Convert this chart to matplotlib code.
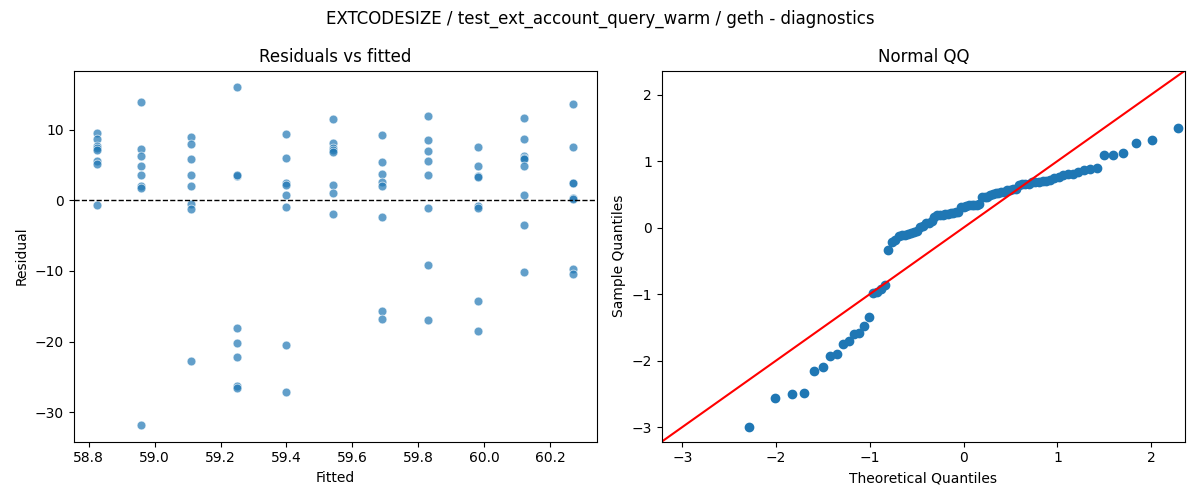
import matplotlib
matplotlib.use("Agg")
import matplotlib.pyplot as plt
import numpy as np

fitted_levels = [58.826, 58.96, 59.11, 59.25, 59.40, 59.54, 59.69, 59.83, 59.98, 60.12, 60.27]
residual_groups = [
    [9.6, 8.7, 7.7, 7.4, 7.1, 5.6, 5.2, -0.7],
    [14.0, 7.3, 6.3, 4.9, 3.6, 2.0, 1.8, -31.8],
    [9.0, 8.0, 5.8, 3.6, 2.1, -0.5, -1.2, -22.8],
    [16.0, 3.5, 3.6, -18.1, -20.2, -22.2, -26.3, -26.6],
    [9.4, 6.0, 2.4, 2.2, 0.8, -1.0, -20.5, -27.2],
    [11.6, 8.2, 7.4, 7.1, 6.9, 2.2, 1.1, -1.9],
    [9.2, 5.4, 3.8, 2.6, 2.1, -2.3, -15.7, -16.8],
    [12.0, 8.5, 7.0, 5.6, 3.6, -1.1, -9.1, -16.9],
    [7.5, 4.9, 3.4, 3.3, -0.8, -1.1, -14.3, -18.5],
    [11.7, 8.7, 6.3, 6.0, 5.8, 4.9, 0.8, -3.5, -10.2],
    [13.6, 7.5, 2.5, 2.4, 0.4, 0.2, -9.7, -10.4],
]


def norm_ppf(p: np.ndarray) -> np.ndarray:
    # Acklam's rational approximation
    a = [-3.969683028665376e01, 2.209460984245205e02, -2.759285104469687e02,
         1.383577518672690e02, -3.066479806614716e01, 2.506628277459239e00]
    b = [-5.447609879822406e01, 1.615858368580409e02, -1.556989798598866e02,
         6.680131188771972e01, -1.328068155288572e01]
    c = [-7.784894002430293e-03, -3.223964580411365e-01, -2.400758277161838e00,
         -2.549732539343734e00, 4.374664141464968e00, 2.938163982698783e00]
    d = [7.784695709041462e-03, 3.224671290700398e-01, 2.445134137142996e00,
         3.754408661907416e00]
    out = np.empty_like(p)
    lo, hi = 0.02425, 1 - 0.02425
    for i, x in enumerate(p):
        if x < lo:
            q = np.sqrt(-2 * np.log(x))
            out[i] = (((((c[0]*q+c[1])*q+c[2])*q+c[3])*q+c[4])*q+c[5]) / ((((d[0]*q+d[1])*q+d[2])*q+d[3])*q+1)
        elif x > hi:
            q = np.sqrt(-2 * np.log(1 - x))
            out[i] = -(((((c[0]*q+c[1])*q+c[2])*q+c[3])*q+c[4])*q+c[5]) / ((((d[0]*q+d[1])*q+d[2])*q+d[3])*q+1)
        else:
            q = x - 0.5
            r = q * q
            out[i] = (((((a[0]*r+a[1])*r+a[2])*r+a[3])*r+a[4])*r+a[5])*q / (((((b[0]*r+b[1])*r+b[2])*r+b[3])*r+b[4])*r+1)
    return out


xs = np.concatenate([[f] * len(g) for f, g in zip(fitted_levels, residual_groups)])
resid = np.concatenate([np.array(g) for g in residual_groups])

fig, axes = plt.subplots(1, 2, figsize=(12, 5), dpi=100)
fig.suptitle("EXTCODESIZE / test_ext_account_query_warm / geth - diagnostics")

ax = axes[0]
ax.scatter(xs, resid, s=40, color="C0", alpha=0.7, edgecolors="white", linewidths=0.6)
ax.axhline(0, color="black", linestyle="--", linewidth=1)
ax.set_title("Residuals vs fitted")
ax.set_xlabel("Fitted")
ax.set_ylabel("Residual")

n = len(resid)
sample = np.sort((resid - resid.mean()) / resid.std(ddof=1))
theo = norm_ppf(np.arange(1, n + 1) / (n + 1))
ax = axes[1]
ax.plot(theo, sample, "o", color="C0", markersize=6)
lims = (-3.22, 2.36)
ax.plot(lims, lims, color="red")
ax.set_xlim(lims)
ax.set_ylim(lims)
ax.set_title("Normal QQ")
ax.set_xlabel("Theoretical Quantiles")
ax.set_ylabel("Sample Quantiles")

plt.tight_layout()
plt.savefig("out.png")
